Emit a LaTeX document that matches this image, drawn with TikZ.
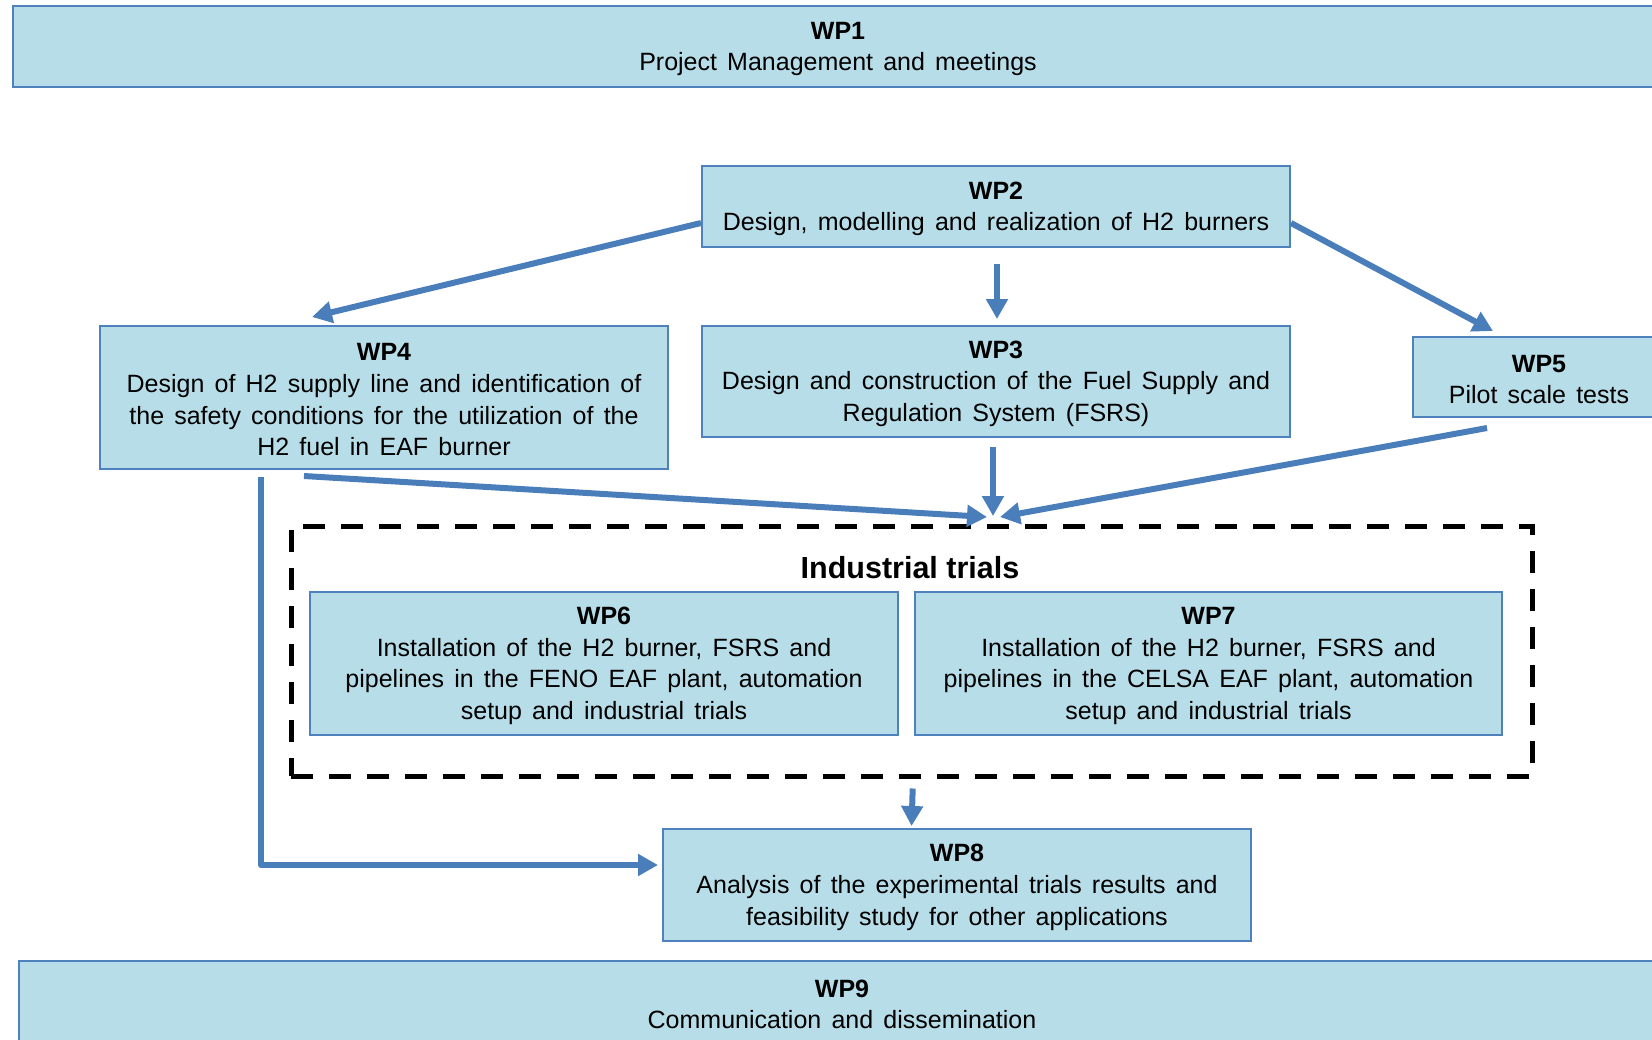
\documentclass[tikz,border=0pt]{standalone}
\usepackage{fontspec}
\setmainfont{Liberation Sans}
\usetikzlibrary{arrows.meta}
\definecolor{boxfill}{HTML}{B7DDE8}
\definecolor{boxline}{HTML}{4F81BD}
\definecolor{arrowblue}{HTML}{4A7EBB}
\newcommand{\wptop}{\rule{0pt}{22pt}}
\newcommand{\wpfont}{\fontsize{25}{31.6}\selectfont\spaceskip 10.2pt\relax}
\tikzset{
  wpbox/.style={draw=boxline, line width=2pt, fill=boxfill, align=center, inner sep=0pt,
    font=\wpfont},
  conn/.style={draw=arrowblue, line width=6pt, line join=round,
    -{Triangle[length=20pt,width=21pt]}},
  trialbox/.style={draw=black, line width=5pt, dash pattern=on 22pt off 16pt, inner sep=0pt}
}
\begin{document}
\begin{tikzpicture}[x=1pt,y=-1pt]
\useasboundingbox (0,0) rectangle (1652,1039);
\clip (0,0) rectangle (1652,1039);
\fill[white] (0,0) rectangle (1652,1039);

% boxes
\node[wpbox, minimum width=1650pt, minimum height=81pt] (wp1) at (838,46.5)
  {\wptop\textbf{WP1}\\Project Management and meetings};
\node[wpbox, minimum width=588pt, minimum height=81pt] (wp2) at (996,206.5)
  {\wptop\textbf{WP2}\\Design, modelling and realization of H2 burners};
\node[wpbox, minimum width=588pt, minimum height=111pt] (wp3) at (996,381.5)
  {\wptop\textbf{WP3}\\Design and construction of the Fuel Supply and\\Regulation System (FSRS)};
\node[wpbox, minimum width=568pt, minimum height=143pt] (wp4) at (384,397.5)
  {\wptop\textbf{WP4}\\Design of H2 supply line and identification of\\the safety conditions for the utilization of the\\H2 fuel in EAF burner};
\node[wpbox, minimum width=252pt, minimum height=80pt] (wp5) at (1539,377)
  {\wptop\textbf{WP5}\\Pilot scale tests};

\node[trialbox, minimum width=1241pt, minimum height=250pt] (trials) at (911.5,651) {};
\node[font=\fontsize{30.5}{36}\selectfont\bfseries] (trialslabel) at (910,568) {Industrial trials};

\node[wpbox, minimum width=588pt, minimum height=143pt] (wp6) at (604,663.5)
  {\wptop\textbf{WP6}\\Installation of the H2 burner, FSRS and\\pipelines in the FENO EAF plant, automation\\setup and industrial trials};
\node[wpbox, minimum width=587pt, minimum height=143pt] (wp7) at (1208.5,663.5)
  {\wptop\textbf{WP7}\\Installation of the H2 burner, FSRS and\\pipelines in the CELSA EAF plant, automation\\setup and industrial trials};
\node[wpbox, minimum width=588pt, minimum height=112pt] (wp8) at (957,885)
  {\wptop\textbf{WP8}\\Analysis of the experimental trials results and\\feasibility study for other applications};
\node[wpbox, minimum width=1646pt, minimum height=82pt] (wp9) at (842,1002)
  {\wptop\textbf{WP9}\\Communication and dissemination};

% free ends
\coordinate (tip4) at (312,317);
\coordinate (tip5) at (1493,331);
\coordinate (conv) at (993,518);

% connectors
\draw[conn] ([yshift=-16.5pt]wp2.west) -- (tip4);
\draw[conn, shorten <=16pt, shorten >=6pt] ([xshift=1pt]wp2.south) -- ([xshift=1pt]wp3.north);
\draw[conn] ([yshift=-16.5pt]wp2.east) -- (tip5);
\draw[conn] ([xshift=-80pt,yshift=-6pt]wp4.south) -- ([xshift=-6pt,yshift=1pt]conv);
\draw[conn, shorten <=9pt] (wp3.south -| conv) -- ([yshift=2pt]conv);
\draw[conn] ([xshift=-52pt,yshift=-10pt]wp5.south) -- ([xshift=7pt,yshift=1pt]conv);
\draw[conn] ([xshift=-123pt,yshift=-7pt]wp4.south) |- ([yshift=20pt,xshift=-4pt]wp8.west);
\draw[conn, shorten <=10pt, shorten >=2pt] ([xshift=1.5pt]trials.south) -- (trials.south |- wp8.north);
\end{tikzpicture}
\end{document}
